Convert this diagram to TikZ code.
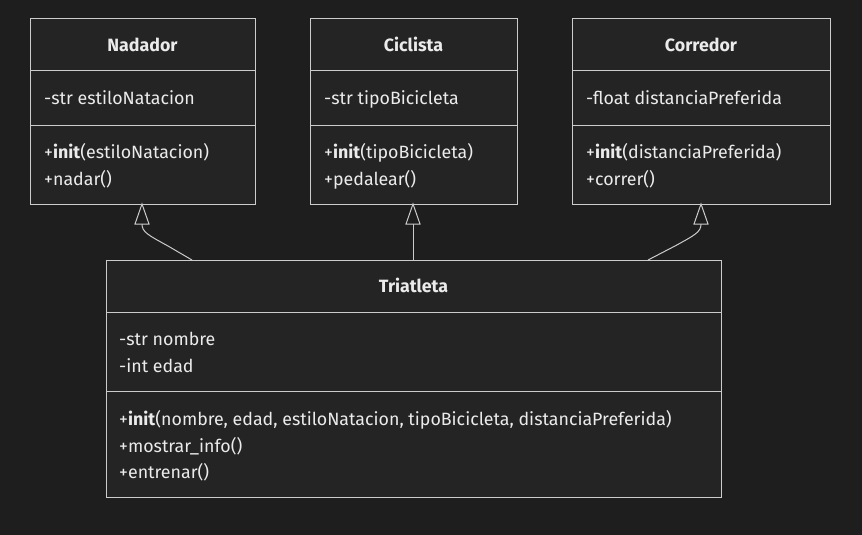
\documentclass[tikz,border=0pt]{standalone}
\usepackage{fontspec}
\setmainfont{Fira Sans}
\definecolor{bg}{HTML}{1E1E1E}
\definecolor{boxfill}{HTML}{242424}
\definecolor{bd}{HTML}{CCCCCC}
\definecolor{tx}{HTML}{EBEBEB}
\begin{document}
\begin{tikzpicture}[x=1pt,y=-1pt,
  box/.style={draw=bd, fill=boxfill, line width=1pt, anchor=north west, inner sep=0pt},
  divider/.style={draw=bd, line width=1pt},
  txt/.style={text=tx, inner sep=0pt, anchor=base west, font=\fontsize{17.8}{20}\selectfont},
  ttl/.style={text=tx, inner sep=0pt, anchor=base, font=\fontsize{17.8}{20}\selectfont\bfseries},
  link/.style={draw=bd, line width=1pt},
  tri/.style={draw=bd, line width=1pt, fill=bg, line join=miter}]
\fill[bg] (0,0) rectangle (862,535);
\useasboundingbox (0,0) rectangle (862,535);

% Nadador
\node[box, minimum width=225pt, minimum height=186pt] (nad) at (30,18) {};
\draw[divider] (30,71) -- (255,71);
\draw[divider] (30,125) -- (255,125);
\node[ttl] (nadT) at (142.5,51.5) {Nadador};
\node[txt] (nadA) at (44,104) {-str estiloNatacion};
\node[txt] (nadM1) at (44,158) {+\textbf{init}(estiloNatacion)};
\node[txt] (nadM2) at (44,185) {+nadar()};

% Ciclista
\node[box, minimum width=207pt, minimum height=186pt] (cic) at (310,18) {};
\draw[divider] (310,71) -- (517,71);
\draw[divider] (310,125) -- (517,125);
\node[ttl] (cicT) at (413.5,51.5) {Ciclista};
\node[txt] (cicA) at (324,104) {-str tipoBicicleta};
\node[txt] (cicM1) at (324,158) {+\textbf{init}(tipoBicicleta)};
\node[txt] (cicM2) at (324,185) {+pedalear()};

% Corredor
\node[box, minimum width=258pt, minimum height=186pt] (cor) at (572,18) {};
\draw[divider] (572,71) -- (830,71);
\draw[divider] (572,125) -- (830,125);
\node[ttl] (corT) at (701,51.5) {Corredor};
\node[txt] (corA) at (586,104) {-float distanciaPreferida};
\node[txt] (corM1) at (586,158) {+\textbf{init}(distanciaPreferida)};
\node[txt] (corM2) at (586,185) {+correr()};

% Triatleta
\node[box, minimum width=615pt, minimum height=237pt] (tri) at (106,260) {};
\draw[divider] (106,312) -- (721,312);
\draw[divider] (106,391) -- (721,391);
\node[ttl] (triT) at (413.5,292.5) {Triatleta};
\node[txt] (triA1) at (119,345) {-str nombre};
\node[txt] (triA2) at (119,372) {-int edad};
\node[txt] (triM1) at (119,425) {+\textbf{init}(nombre, edad, estiloNatacion, tipoBicicleta, distanciaPreferida)};
\node[txt] (triM2) at (119,452) {+mostrar\_info()};
\node[txt] (triM3) at (119,478) {+entrenar()};

% Inheritance links
\coordinate (nadTip) at (142,204);
\coordinate (nadBase) at (142,224);
\coordinate (cicTip) at (413,204);
\coordinate (cicBase) at (413,224);
\coordinate (corTip) at (701,204);
\coordinate (corBase) at (701,224);
\coordinate (triN1) at (192,260);
\coordinate (triN2) at (413,260);
\coordinate (triN3) at (648,260);

\draw[link] (triN1) -- (168,246) .. controls (148,235) and (142,232) .. (nadBase);
\draw[link] (triN2) -- (cicBase);
\draw[link] (triN3) -- (675,246) .. controls (695,235) and (701,232) .. (corBase);

\draw[tri] (nadTip) -- (135,224) -- (149,224) -- cycle;
\draw[tri] (cicTip) -- (406,224) -- (420,224) -- cycle;
\draw[tri] (corTip) -- (694,224) -- (708,224) -- cycle;
\end{tikzpicture}
\end{document}
